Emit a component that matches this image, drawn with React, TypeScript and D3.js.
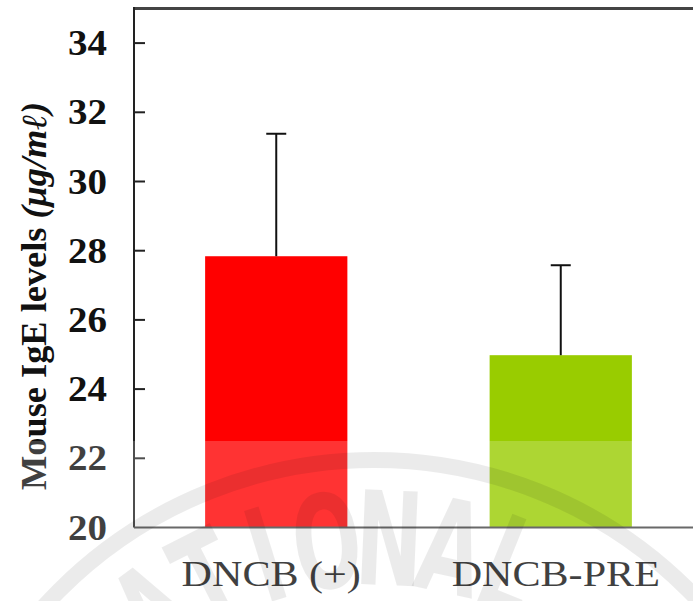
import * as d3 from 'd3';

const width = 693;
const height = 601;

const groups = ['DNCB (+)', 'DNCB-PRE'];
const means = [27.84, 24.98];
const errors = [3.54, 2.6];
const barColors = ['#ff0000', '#99cc00'];
const yTicks = [20, 22, 24, 26, 28, 30, 32, 34];
const sealLetters = 'NATIONAL'.split('');

const serif = 'Liberation Serif, Times New Roman, Times, serif';
// the scan is a little wider than it should be, so the labels are too
const stretch = 1.17;

const x = d3.scaleBand<string>().domain(groups).range([134, 703]).paddingInner(0.5).paddingOuter(0.25);
const y = d3.scaleLinear().domain([20, 35]).range([527.5, 8.5]);

const seal = { cx: 374, cy: 905, r: 445, textR: 320, start: -46.6, step: 9.8 };

export default function App() {
    const left = x.range()[0];
    const bottom = y(20);
    const top = y(35);

    return (
        <svg
            width={width}
            height={height}
            style={{ position: 'absolute', left: 0, top: 0, background: '#fff' }}
        >
            <rect width={width} height={height} fill="#fff" />

            {groups.map((g, i) => {
                const cx = (x(g) ?? 0) + x.bandwidth() / 2;
                const yTop = y(means[i] + errors[i]);
                return (
                    <g key={g}>
                        <rect
                            x={x(g)}
                            y={y(means[i])}
                            width={x.bandwidth()}
                            height={bottom - y(means[i])}
                            fill={barColors[i]}
                        />
                        <line x1={cx} x2={cx} y1={y(means[i])} y2={yTop} stroke="#111" strokeWidth={2} />
                        <line x1={cx - 10} x2={cx + 10} y1={yTop} y2={yTop} stroke="#111" strokeWidth={2} />
                    </g>
                );
            })}

            {/* frame */}
            <line x1={left} x2={width} y1={top} y2={top} stroke="#444" strokeWidth={3} />
            <line x1={left} x2={left} y1={top - 1.5} y2={bottom} stroke="#222" strokeWidth={2} />
            <line x1={left} x2={width} y1={bottom} y2={bottom} stroke="#444" strokeWidth={2} />

            <g style={{ fontFamily: serif }}>
                {yTicks.map((t) => (
                    <g key={t}>
                        {t > 20 && (
                            <line x1={left} x2={left + 11} y1={y(t)} y2={y(t)} stroke="#222" strokeWidth={2} />
                        )}
                        <text
                            x={107}
                            y={y(t) + 12}
                            textAnchor="end"
                            fontWeight="bold"
                            fontSize={35}
                            textLength={39}
                            lengthAdjust="spacingAndGlyphs"
                            fill="#111"
                        >
                            {t}
                        </text>
                    </g>
                ))}

                <text
                    transform="translate(46,490) rotate(-90)"
                    fontWeight="bold"
                    fontSize={35}
                    textLength={388}
                    lengthAdjust="spacingAndGlyphs"
                    fill="#111"
                >
                    Mouse IgE levels <tspan fontStyle="italic">(μg/mℓ)</tspan>
                </text>

                {groups.map((g) => (
                    <text
                        key={g}
                        transform={`translate(${(x(g) ?? 0) + x.bandwidth() / 2 - 5},586) scale(${stretch},1)`}
                        textAnchor="middle"
                        fontSize={36}
                        fill="#111"
                    >
                        {g}
                    </text>
                ))}
            </g>

            {/* faded seal watermark from the scan */}
            <rect x={0} y={441} width={width} height={height - 441} fill="#fff" opacity={0.2} />
            <circle cx={seal.cx} cy={seal.cy} r={seal.r} fill="none" stroke="#000" strokeOpacity={0.08} strokeWidth={16} />
            <g fontFamily="DejaVu Sans, sans-serif" fontWeight="bold" fontSize={130} fill="#000" fillOpacity={0.08}>
                {sealLetters.map((ch, i) => {
                    const a = seal.start + seal.step * i;
                    const rad = (a * Math.PI) / 180;
                    const px = seal.cx + seal.textR * Math.sin(rad);
                    const py = seal.cy - seal.textR * Math.cos(rad);
                    return (
                        <text
                            key={i}
                            transform={`translate(${px},${py}) rotate(${a}) scale(0.62,1)`}
                            textAnchor="middle"
                        >
                            {ch}
                        </text>
                    );
                })}
            </g>
        </svg>
    );
}
